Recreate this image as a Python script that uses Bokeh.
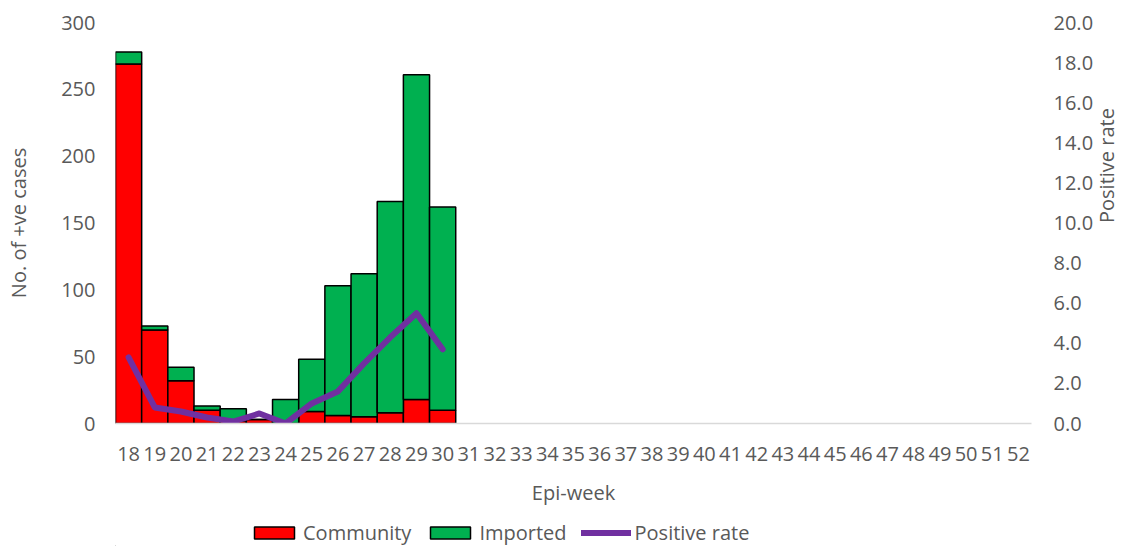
import math
from bokeh.plotting import figure
from bokeh.layouts import column
from bokeh.models import Range1d, LinearAxis, SingleIntervalTicker, NumeralTickFormatter, Legend, LegendItem, FactorRange
from bokeh.embed import file_html
from bokeh.resources import INLINE

weeks = [str(w) for w in range(18, 53)]
data_weeks = [str(w) for w in range(18, 31)]
community = [269, 70, 32, 10, 2, 3, 0, 9, 6, 5, 8, 18, 10]
imported = [9, 3, 10, 3, 9, 0, 18, 39, 97, 107, 158, 243, 152]
positive_rate = [3.3, 0.8, 0.6, 0.3, 0.1, 0.5, 0.0, 1.0, 1.6, 3.0, 4.3, 5.5, 3.7]

FONT = "Open Sans"
TXT = "#595959"
FS = "20px"
RED, GREEN, PURPLE = "#FF0000", "#00B050", "#7030A0"

p = figure(frame_width=916, frame_height=401, x_range=FactorRange(*weeks, range_padding=0),
           y_range=Range1d(0, 300), output_backend="svg", toolbar_location=None,
           min_border_left=115, min_border_right=0, min_border_top=22, min_border_bottom=87)
p.outline_line_color = None
p.grid.grid_line_color = None
p.extra_y_ranges = {"rate": Range1d(0, 20)}

src = dict(x=data_weeks, Community=community, Imported=imported)
r_bars = p.vbar_stack(["Community", "Imported"], x="x", width=1.0, source=src,
                      color=[RED, GREEN], line_color="black", line_width=1.5)
for r, c in zip(r_bars, [RED, GREEN]):
    r.glyph.fill_color = c
    r.glyph.line_color = "black"
p.line(data_weeks, positive_rate, y_range_name="rate", line_color=PURPLE,
       line_width=6, line_cap="round", line_join="round")

ya = p.yaxis[0]
ya.ticker = SingleIntervalTicker(interval=50)
ya.axis_label = "No. of +ve cases"

ra = LinearAxis(y_range_name="rate", axis_label="Positive rate",
                ticker=SingleIntervalTicker(interval=2),
                formatter=NumeralTickFormatter(format="0.0"))
p.add_layout(ra, "right")

xa = p.xaxis[0]
xa.axis_label = "Epi-week"

for ax in [ya, ra, xa]:
    ax.major_tick_line_color = None
    ax.minor_tick_line_color = None
    ax.major_tick_out = 0
    ax.major_tick_in = 0
    ax.minor_tick_out = 0
    ax.minor_tick_in = 0
    ax.major_label_text_font = FONT
    ax.major_label_text_font_size = FS
    ax.major_label_text_color = TXT
    ax.axis_label_text_font = FONT
    ax.axis_label_text_font_size = FS
    ax.axis_label_text_color = TXT
    ax.axis_label_text_font_style = "normal"
ya.axis_line_color = None
ra.axis_line_color = None
xa.axis_line_color = "#D9D9D9"
xa.axis_line_width = 1.5
ya.major_label_standoff = 20
ya.axis_label_standoff = 26
ra.major_label_standoff = 22
ra.axis_label_standoff = 10
ra.axis_label_orientation = math.pi / 2
xa.major_label_standoff = 23
xa.axis_label_standoff = 15

# legend strip below the chart
lg = figure(width=1113, height=36, x_range=Range1d(0, 1), y_range=Range1d(0, 1),
            x_axis_location=None, y_axis_location=None,
            output_backend="svg", toolbar_location=None,
            min_border=0, min_border_left=0, min_border_right=0, min_border_top=0, min_border_bottom=0)
lg.grid.visible = False
lg.outline_line_color = None
lb1 = lg.vbar(x=[-100], top=[-100], bottom=[-101], width=0.1, fill_color=RED, line_color="black", line_width=1.5)
lb2 = lg.vbar(x=[-100], top=[-100], bottom=[-101], width=0.1, fill_color=GREEN, line_color="black", line_width=1.5)
ll = lg.line(x=[-100, -99], y=[-100, -100], line_color=PURPLE, line_width=6, line_cap="round")

legend = Legend(items=[LegendItem(label="Community", renderers=[lb1]),
                       LegendItem(label="Imported", renderers=[lb2]),
                       LegendItem(label="Positive rate", renderers=[ll])],
                orientation="horizontal", location=(134, 0),
                label_text_font=FONT, label_text_font_size=FS, label_text_color=TXT,
                glyph_width=50, glyph_height=15, label_standoff=4, spacing=14,
                border_line_color=None, background_fill_alpha=0, padding=2, margin=0)
lg.add_layout(legend, "center")

layout = column(p, lg, spacing=0)
open("out.html", "w").write(file_html(layout, INLINE))
